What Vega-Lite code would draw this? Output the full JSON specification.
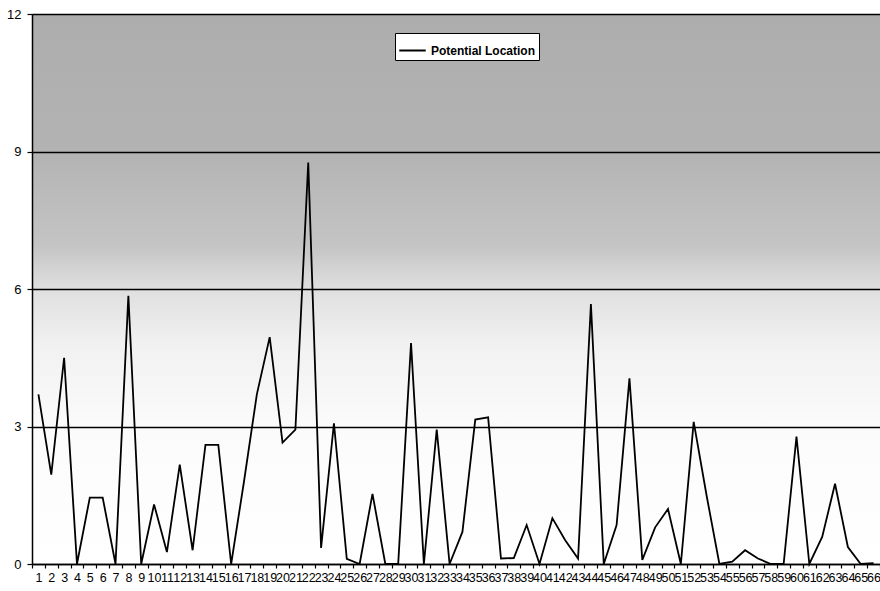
{
  "$schema": "https://vega.github.io/schema/vega-lite/v6.json",
  "width": 848,
  "height": 550,
  "autosize": {"type": "none"},
  "padding": {"left": 32, "top": 14, "right": 0, "bottom": 27},
  "background": "white",
  "config": {
    "font": "Liberation Sans",
    "view": {
      "stroke": null,
      "fill": {
        "gradient": "linear",
        "x1": 0, "y1": 0, "x2": 0, "y2": 1,
        "stops": [
          {"offset": 0, "color": "#adadad"},
          {"offset": 0.25, "color": "#b3b3b3"},
          {"offset": 0.42, "color": "#c4c4c4"},
          {"offset": 0.5, "color": "#dfdfdf"},
          {"offset": 0.6, "color": "#f1f1f1"},
          {"offset": 0.75, "color": "#fbfbfb"},
          {"offset": 1, "color": "#ffffff"}
        ]
      }
    }
  },
  "data": {
    "values": [
      {"loc": 1, "value": 3.7}, {"loc": 2, "value": 1.95}, {"loc": 3, "value": 4.5},
      {"loc": 4, "value": 0}, {"loc": 5, "value": 1.45}, {"loc": 6, "value": 1.45},
      {"loc": 7, "value": 0}, {"loc": 8, "value": 5.85}, {"loc": 9, "value": 0},
      {"loc": 10, "value": 1.3}, {"loc": 11, "value": 0.26}, {"loc": 12, "value": 2.17},
      {"loc": 13, "value": 0.3}, {"loc": 14, "value": 2.6}, {"loc": 15, "value": 2.6},
      {"loc": 16, "value": 0}, {"loc": 17, "value": 1.8}, {"loc": 18, "value": 3.7},
      {"loc": 19, "value": 4.95}, {"loc": 20, "value": 2.65}, {"loc": 21, "value": 2.93},
      {"loc": 22, "value": 8.76}, {"loc": 23, "value": 0.35}, {"loc": 24, "value": 3.07},
      {"loc": 25, "value": 0.11}, {"loc": 26, "value": 0}, {"loc": 27, "value": 1.53},
      {"loc": 28, "value": 0}, {"loc": 29, "value": 0}, {"loc": 30, "value": 4.82},
      {"loc": 31, "value": 0}, {"loc": 32, "value": 2.93}, {"loc": 33, "value": 0},
      {"loc": 34, "value": 0.7}, {"loc": 35, "value": 3.15}, {"loc": 36, "value": 3.2},
      {"loc": 37, "value": 0.12}, {"loc": 38, "value": 0.13}, {"loc": 39, "value": 0.85},
      {"loc": 40, "value": 0}, {"loc": 41, "value": 1.0}, {"loc": 42, "value": 0.52},
      {"loc": 43, "value": 0.12}, {"loc": 44, "value": 5.67}, {"loc": 45, "value": 0},
      {"loc": 46, "value": 0.85}, {"loc": 47, "value": 4.05}, {"loc": 48, "value": 0.09},
      {"loc": 49, "value": 0.8}, {"loc": 50, "value": 1.2}, {"loc": 51, "value": 0},
      {"loc": 52, "value": 3.1}, {"loc": 53, "value": 1.5}, {"loc": 54, "value": 0},
      {"loc": 55, "value": 0.05}, {"loc": 56, "value": 0.3}, {"loc": 57, "value": 0.12},
      {"loc": 58, "value": 0}, {"loc": 59, "value": 0}, {"loc": 60, "value": 2.78},
      {"loc": 61, "value": 0}, {"loc": 62, "value": 0.59}, {"loc": 63, "value": 1.75},
      {"loc": 64, "value": 0.37}, {"loc": 65, "value": 0}, {"loc": 66, "value": 0.02}
    ]
  },
  "mark": {"type": "line", "strokeWidth": 1.8, "strokeJoin": "miter"},
  "encoding": {
    "x": {
      "field": "loc",
      "type": "ordinal",
      "scale": {"paddingInner": 0, "paddingOuter": 0},
      "axis": {
        "title": null,
        "labelAngle": 0,
        "labelOverlap": false,
        "labelBound": false,
        "labelFontSize": 12.5,
        "labelColor": "#000000",
        "labelPadding": 3,
        "tickBand": "extent",
        "tickColor": "#000000",
        "tickSize": 4,
        "tickWidth": 1.2,
        "domainColor": "#000000",
        "domainWidth": 1.5,
        "grid": false
      }
    },
    "y": {
      "field": "value",
      "type": "quantitative",
      "scale": {"domain": [0, 12], "nice": false},
      "axis": {
        "title": null,
        "values": [0, 3, 6, 9, 12],
        "labelFontSize": 13,
        "labelColor": "#000000",
        "labelPadding": 6,
        "tickColor": "#000000",
        "tickSize": 5,
        "tickWidth": 1.2,
        "domainColor": "#000000",
        "domainWidth": 1.5,
        "grid": true,
        "gridColor": "#000000",
        "gridWidth": 1.5,
        "gridOpacity": 1
      }
    },
    "color": {
      "datum": "Potential Location",
      "scale": {"range": ["#000000"]},
      "legend": {
        "title": null,
        "orient": "none",
        "legendX": 363,
        "legendY": 19,
        "direction": "vertical",
        "fillColor": "#ffffff",
        "strokeColor": "#000000",
        "padding": 3,
        "symbolType": "stroke",
        "symbolSize": 700,
        "symbolStrokeWidth": 2,
        "labelFontSize": 12,
        "labelFontWeight": "bold",
        "labelColor": "#000000",
        "labelOffset": 4
      }
    }
  }
}
